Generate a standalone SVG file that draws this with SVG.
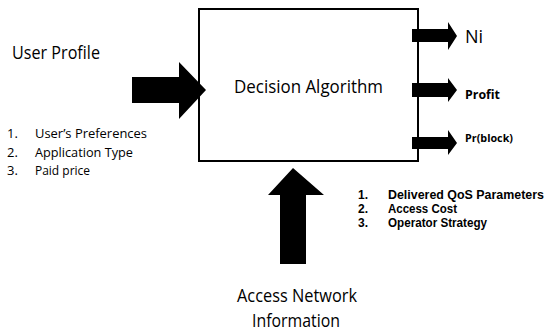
<svg xmlns="http://www.w3.org/2000/svg" width="547" height="332" viewBox="0 0 547 332">
<style>
text { font-family: "Open Sans", "Liberation Sans", sans-serif; fill: #000; }
.big { font-size: 18px; }
.lst { font-size: 13px; }
.rl { font-family: "Liberation Sans", Arial, sans-serif; font-size: 12px; font-weight: bold; }
.arr { fill: #000; stroke: none; }
</style>
<rect width="547" height="332" fill="#fff"/>
<g id="decision-algorithm">
<rect x="199" y="9" width="219" height="152" fill="#fff" stroke="#000" stroke-width="2"/>
<text class="big" x="234" y="93" textLength="149" lengthAdjust="spacingAndGlyphs">Decision Algorithm</text>
</g>
<g id="user-profile">
<text class="big" x="12" y="59" textLength="88" lengthAdjust="spacingAndGlyphs">User Profile</text>
<text class="lst" x="7" y="138">1.</text>
<text class="lst" x="35" y="138" textLength="112" lengthAdjust="spacingAndGlyphs">User’s Preferences</text>
<text class="lst" x="7" y="157">2.</text>
<text class="lst" x="35" y="157" textLength="98" lengthAdjust="spacingAndGlyphs">Application Type</text>
<text class="lst" x="7" y="175">3.</text>
<text class="lst" x="35" y="175" textLength="55" lengthAdjust="spacingAndGlyphs">Paid price</text>
</g>
<g id="access-network">
<text class="big" x="297" y="302" text-anchor="middle" style="font-size:19px" textLength="120" lengthAdjust="spacingAndGlyphs">Access Network</text>
<text class="big" x="296" y="327" text-anchor="middle" style="font-size:19px" textLength="88" lengthAdjust="spacingAndGlyphs">Information</text>
<text class="rl" x="358" y="199">1.</text>
<text class="rl" x="388" y="199" textLength="156" lengthAdjust="spacingAndGlyphs">Delivered QoS Parameters</text>
<text class="rl" x="358" y="213">2.</text>
<text class="rl" x="388" y="213" textLength="69" lengthAdjust="spacingAndGlyphs">Access Cost</text>
<text class="rl" x="358" y="227">3.</text>
<text class="rl" x="388" y="227" textLength="99" lengthAdjust="spacingAndGlyphs">Operator Strategy</text>
</g>
<g id="out-ni">
<text class="big" x="465" y="43">Ni</text>
</g>
<g id="out-profit">
<text x="465" y="99" style="font-size:13px;font-weight:bold" textLength="35" lengthAdjust="spacingAndGlyphs">Profit</text>
</g>
<g id="out-prblock">
<text x="465" y="142" style="font-size:11px;font-weight:bold" textLength="48" lengthAdjust="spacingAndGlyphs">Pr(block)</text>
</g>
<g id="connectors">
<polygon class="arr" points="132,77 179,77 179,62 206,90 179,119 179,103 132,103"/>
<polygon class="arr" points="280,264 280,195 268,195 293,168 324,195 306,195 306,264"/>
<polygon class="arr" points="412,29 448,29 448,22 457,36 448,50 448,42 412,42"/>
<polygon class="arr" points="412,83 448,83 448,78 457,90 448,102 448,97 412,97"/>
<polygon class="arr" points="412,137 448,137 448,130 457,143 448,155 448,149 412,149"/>
</g>
</svg>
